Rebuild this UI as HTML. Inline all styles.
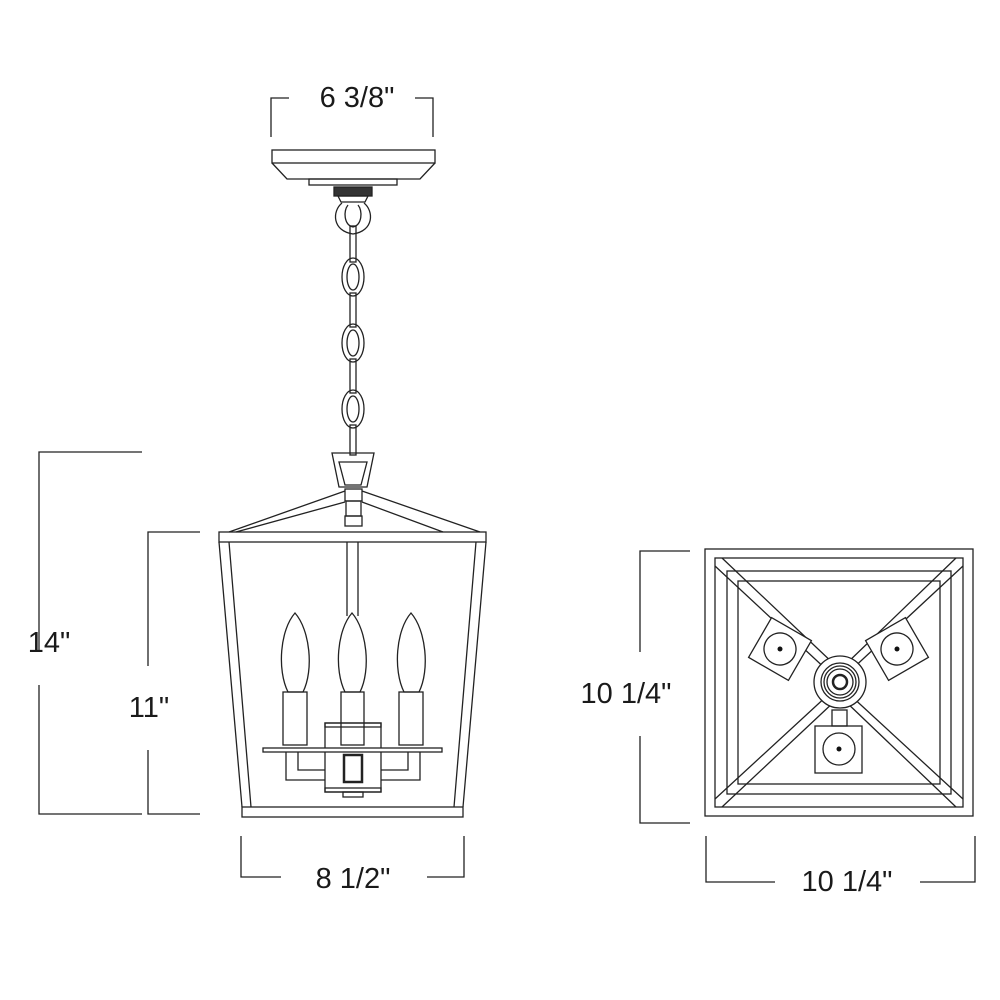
<!DOCTYPE html>
<html><head><style>
html,body{margin:0;padding:0;background:#fff;}
svg{display:block;}
text{font-family:"Liberation Sans",sans-serif;font-size:29px;fill:#1a1a1a;}
</style></head><body>
<svg width="1000" height="1000" viewBox="0 0 1000 1000" xmlns="http://www.w3.org/2000/svg">
<g fill="none" stroke="#222" stroke-width="1.3">
<path d="M271 137V98H289M415 98H433V137"/>
<path d="M142 452H39V652M39 685V814H142"/>
<path d="M200 532H148V666M148 750V814H200"/>
<path d="M241 836V877H281M427 877H464V836"/>
<path d="M690 551H640V652M640 736V823H690"/>
<path d="M706 836V882H775M920 882H975V836"/>

<rect x="272" y="150" width="163" height="13"/>
<path d="M272 163L287 179H420L435 163"/>
<rect x="309" y="179" width="88" height="6"/>
<rect x="334" y="187" width="38" height="9" fill="#333"/>
<path d="M338 196h30l-3 6h-24z"/>
<path d="M342 203c-10 8-10 28 11 31c21-3 21-23 11-31"/>
<path d="M348 205c-5 6-4 20 5 22c9-2 10-16 5-22"/>
<rect x="350" y="226" width="6" height="36"/>
<ellipse cx="353" cy="277" rx="11" ry="19"/><ellipse cx="353" cy="277" rx="6" ry="13"/>
<rect x="350" y="293" width="6" height="34"/>
<ellipse cx="353" cy="343" rx="11" ry="19"/><ellipse cx="353" cy="343" rx="6" ry="13"/>
<rect x="350" y="359" width="6" height="34"/>
<ellipse cx="353" cy="409" rx="11" ry="19"/><ellipse cx="353" cy="409" rx="6" ry="13"/>
<rect x="350" y="425" width="6" height="30"/>

<path d="M332 453H374L367 487H339Z"/>
<path d="M339 462H367L361 485H345Z"/>
<rect x="345" y="489" width="17" height="12"/>
<rect x="346" y="501" width="15" height="15"/>
<rect x="345" y="516" width="17" height="10"/>
<path d="M229 532L345 491M236 532L345 502M480 532L362 491M443 532L362 502"/>
<rect x="219" y="532" width="267" height="10"/>
<path d="M219 542L242 807M229 542L251 807M486 542L463 807M476 542L454 807"/>
<rect x="242" y="807" width="221" height="10"/>
<path d="M347 542V616M358 542V616"/>
<path d="M295 613C280 630 277 670 288 692H303C314 670 310 630 295 613Z"/>
<path d="M352 613C337 630 334 670 345 692H360C371 670 367 630 352 613Z"/>
<path d="M411 613C396 630 393 670 404 692H419C430 670 426 630 411 613Z"/>
<rect x="283" y="692" width="24" height="53"/>
<rect x="341" y="692" width="23" height="53"/>
<rect x="399" y="692" width="24" height="53"/>
<rect x="325" y="723" width="56" height="69"/>
<rect x="325" y="723" width="56" height="4"/>
<rect x="325" y="788" width="56" height="4"/>
<rect x="263" y="748" width="179" height="4" fill="#fff"/>
<rect x="344" y="755" width="18" height="27" stroke-width="2.5"/>
<path d="M286 752V780H325M298 752V770H325M420 752V780H381M408 752V770H381"/>
<rect x="343" y="792" width="20" height="5"/>

<rect x="705" y="549" width="268" height="267"/>
<rect x="715" y="558" width="248" height="249"/>
<rect x="727" y="571" width="224" height="223"/>
<rect x="738" y="581" width="202" height="203"/>
<path d="M715 566L829 672M722 558L836 666M963 566L849 672M956 558L844 666M715 799L829 694M722 807L836 700M963 799L849 694M956 807L844 700"/>
<g transform="rotate(30 780 649)"><rect x="757" y="626" width="46" height="46" fill="#fff"/><circle cx="780" cy="649" r="16"/></g>
<g transform="rotate(-30 897 649)"><rect x="874" y="626" width="46" height="46" fill="#fff"/><circle cx="897" cy="649" r="16"/></g>
<rect x="832" y="710" width="15" height="16"/>
<rect x="815" y="726" width="47" height="47"/>
<circle cx="839" cy="749" r="16"/>
<circle cx="840" cy="682" r="26" fill="#fff"/>
<circle cx="840" cy="682" r="19"/>
<circle cx="840" cy="682" r="16"/>
<circle cx="840" cy="682" r="13"/>
<circle cx="840" cy="682" r="7" stroke-width="2.5"/>
</g>
<g fill="#111">
<circle cx="780" cy="649" r="2.5"/>
<circle cx="897" cy="649" r="2.5"/>
<circle cx="839" cy="749" r="2.5"/>
</g>
<text x="357" y="107" text-anchor="middle">6 3/8"</text>
<text x="49" y="652" text-anchor="middle">14"</text>
<text x="149" y="717" text-anchor="middle">11"</text>
<text x="353" y="888" text-anchor="middle">8 1/2"</text>
<text x="626" y="703" text-anchor="middle">10 1/4"</text>
<text x="847" y="891" text-anchor="middle">10 1/4"</text>
</svg>
</body></html>
